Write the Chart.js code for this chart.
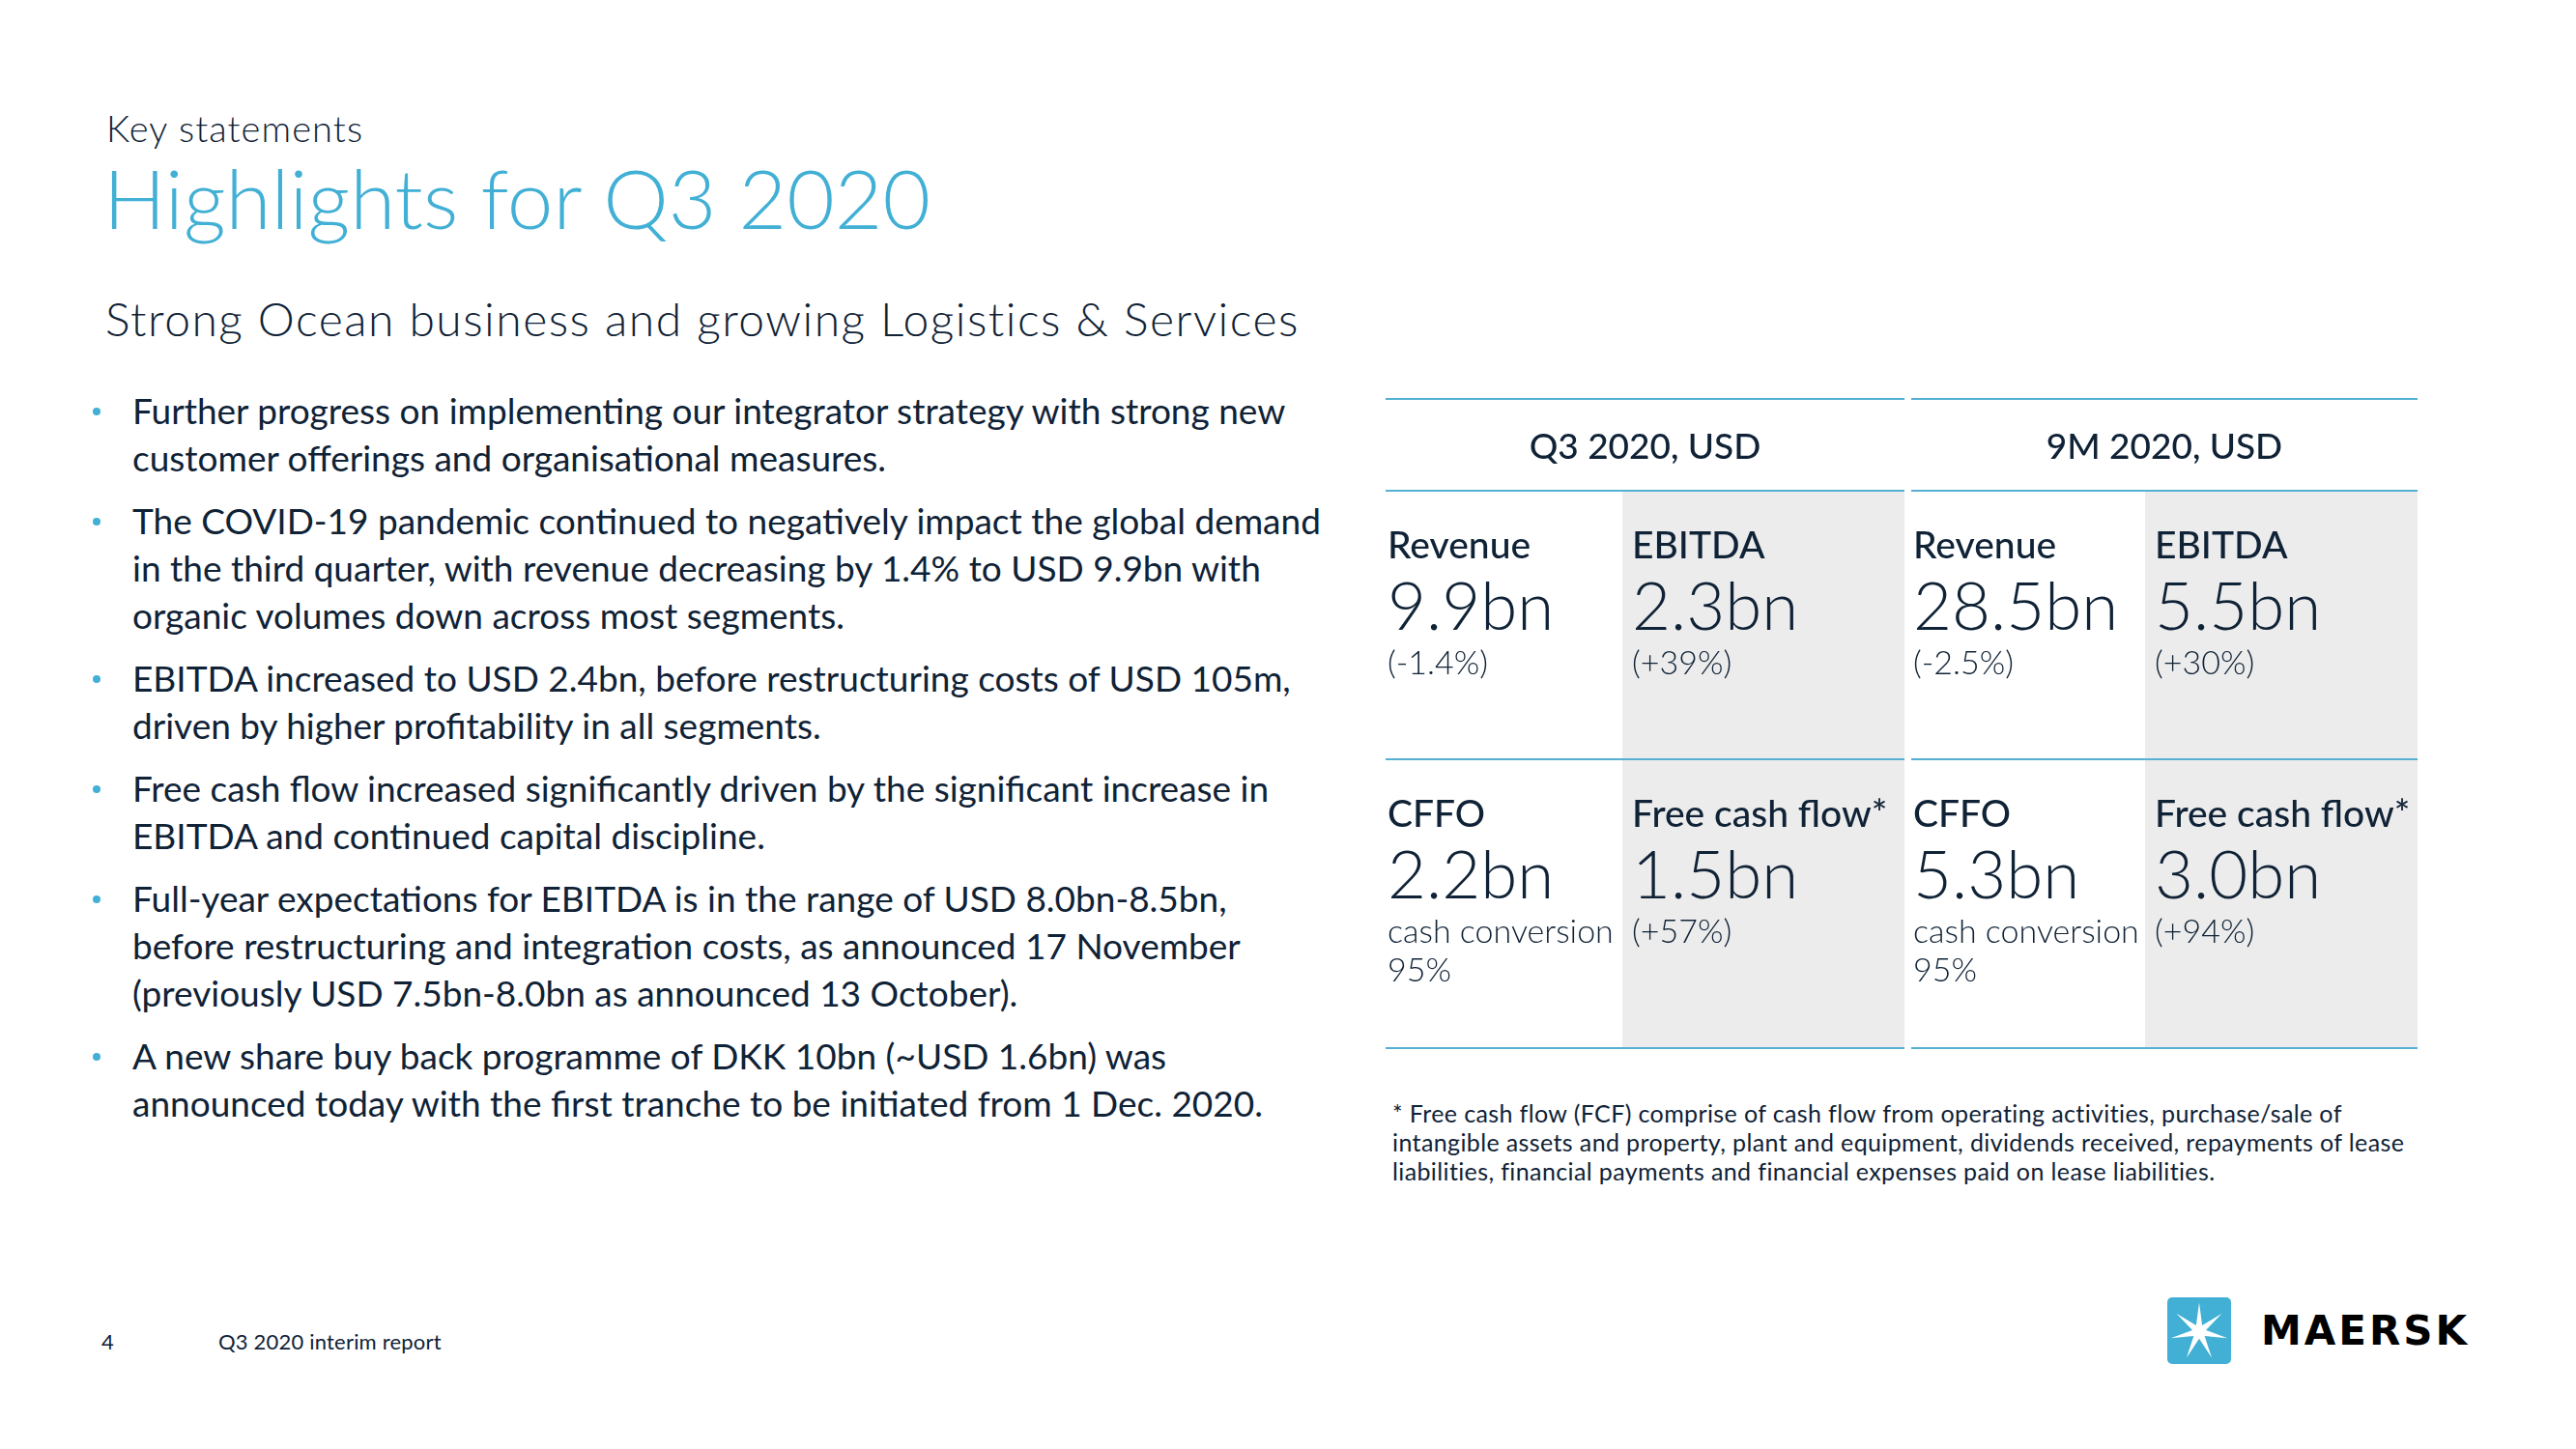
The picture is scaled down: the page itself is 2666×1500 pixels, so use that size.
<!DOCTYPE html>
<html>
<head>
<meta charset="utf-8">
<title>Highlights for Q3 2020</title>
<script src="https://cdn.jsdelivr.net/npm/chart.js@4.4.0/dist/chart.umd.min.js"></script>
<style>
  html, body { margin: 0; padding: 0; background: #ffffff; }
  body { width: 2666px; height: 1500px; position: relative; overflow: hidden;
         font-family: Lato, "Open Sans", sans-serif; color: #0f2236; }
  .abs { position: absolute; white-space: nowrap; margin: 0; }
  #kicker { left: 110px; top: 109.5px; font-size: 38px; line-height: 45.6px; font-weight: 300; letter-spacing: 1.1px; }
  #title { left: 107px; top: 152.6px; font-size: 85.5px; line-height: 102.6px; font-weight: 300; color: #42b0d5; }
  #subtitle { left: 109px; top: 300.6px; font-size: 48px; line-height: 57.6px; font-weight: 300; letter-spacing: 1.5px; }
  #bullets { left: 137px; top: 401.2px; font-size: 37px; line-height: 48.8px; padding: 0; list-style: none;
             font-weight: 400; letter-spacing: 0px; }
  #bullets li { position: relative; margin: 0 0 16.5px 0; }
  #bullets li::before { content: ''; position: absolute; left: -41px; top: 20.7px; width: 8px; height: 8px;
                        border-radius: 50%; background: #42b0d5; }
  #footnote { left: 1441px; top: 1137.3px; font-size: 25px; line-height: 30px; font-weight: 400; letter-spacing: 0.38px; }
  #pageno { left: 105px; top: 1376.3px; font-size: 22px; line-height: 26.4px; }
  #report { left: 226px; top: 1376.3px; font-size: 22px; line-height: 26.4px; letter-spacing: 0.2px; }
  #logo { position: absolute; left: 2243px; top: 1343px; width: 66px; height: 69px; }
  #brand { left: 2340px; top: 1357px; font-family: "DejaVu Sans", sans-serif; font-weight: bold;
           font-size: 42px; line-height: 42px; letter-spacing: 3px; color: #000; }
  #tableWrap { position: absolute; left: 1430px; top: 405px; width: 1082px; height: 690px; }
</style>
</head>
<body>

<div id="kicker" class="abs">Key statements</div>
<div id="title" class="abs">Highlights for Q3 2020</div>
<div id="subtitle" class="abs">Strong Ocean business and growing Logistics &amp; Services</div>

<ul id="bullets" class="abs">
  <li>Further progress on implementing our integrator strategy with strong new<br>customer offerings and organisational measures.</li>
  <li>The COVID-19 pandemic continued to negatively impact the global demand<br>in the third quarter, with revenue decreasing by 1.4% to USD 9.9bn with<br>organic volumes down across most segments.</li>
  <li>EBITDA increased to USD 2.4bn, before restructuring costs of USD 105m,<br>driven by higher profitability in all segments.</li>
  <li>Free cash flow increased significantly driven by the significant increase in<br>EBITDA and continued capital discipline.</li>
  <li>Full-year expectations for EBITDA is in the range of USD 8.0bn-8.5bn,<br>before restructuring and integration costs, as announced 17 November<br>(previously USD 7.5bn-8.0bn as announced 13 October).</li>
  <li>A new share buy back programme of DKK 10bn (~USD 1.6bn) was<br>announced today with the first tranche to be initiated from 1 Dec. 2020.</li>
</ul>

<div id="tableWrap"><canvas id="kpiChart"></canvas></div>

<div id="footnote" class="abs">* Free cash flow (FCF) comprise of cash flow from operating activities, purchase/sale of<br>intangible assets and property, plant and equipment, dividends received, repayments of lease<br>liabilities, financial payments and financial expenses paid on lease liabilities.</div>

<div id="pageno" class="abs">4</div>
<div id="report" class="abs">Q3 2020 interim report</div>

<svg id="logo" viewBox="0 0 66 69" xmlns="http://www.w3.org/2000/svg">
  <rect x="0" y="0" width="66" height="69" rx="5" ry="5" fill="#42b0d5"></rect>
  <polygon id="star" fill="#ffffff" points=""></polygon>
</svg>
<div id="brand" class="abs">MAERSK</div>

<script>
// ---------------- data ----------------
const periods = ['Q3 2020, USD', '9M 2020, USD'];
const metrics = ['Revenue', 'EBITDA', 'CFFO', 'Free cash flow*'];
const q3Values = [9.9, 2.3, 2.2, 1.5];
const nineMonthValues = [28.5, 5.5, 5.3, 3.0];
const q3Notes = ['(-1.4%)', '(+39%)', 'cash conversion 95%', '(+57%)'];
const nineMonthNotes = ['(-2.5%)', '(+30%)', 'cash conversion 95%', '(+94%)'];
const valueUnit = 'bn';

const periodValues = [q3Values, nineMonthValues];
const periodNotes = [q3Notes, nineMonthNotes];

// ---------------- logo star ----------------
(function () {
  const pts = [];
  const cx = 33, cy = 35.5, R = 30, r = 7.2, n = 7;
  for (let i = 0; i < n * 2; i++) {
    const a = -Math.PI / 2 + i * Math.PI / n;
    const rad = i % 2 === 0 ? R : r;
    pts.push((cx + rad * Math.cos(a)).toFixed(2) + ',' + (cy + rad * Math.sin(a)).toFixed(2));
  }
  document.getElementById('star').setAttribute('points', pts.join(' '));
})();

// ---------------- KPI table plugin ----------------
const kpiTablePlugin = {
  id: 'kpiTable',
  afterDatasetsDraw(chart) {
    const o = chart.options.plugins.kpiTable;
    const { ctx } = chart;
    const xs = chart.scales.x, ys = chart.scales.y;
    const X = v => xs.getPixelForValue(v);
    const Y = v => ys.getPixelForValue(v);
    ctx.save();

    periods.forEach((period, b) => {
      const edges = o.colEdges[b];
      // highlighted (second) column of each block
      ctx.fillStyle = o.highlight;
      ctx.fillRect(X(edges[1]), Y(o.rowEdges[1]), X(edges[2]) - X(edges[1]), Y(o.rowEdges[3]) - Y(o.rowEdges[1]));

      // rule lines
      ctx.strokeStyle = o.ruleColor;
      ctx.lineWidth = o.ruleWidth;
      o.rowEdges.forEach(re => {
        const py = Math.round(Y(re));
        ctx.beginPath();
        ctx.moveTo(X(edges[0]), py);
        ctx.lineTo(X(edges[2]), py);
        ctx.stroke();
      });

      // header
      ctx.fillStyle = o.textColor;
      ctx.textBaseline = 'alphabetic';
      ctx.textAlign = 'center';
      ctx.font = o.headerFont;
      ctx.fillText(period, (X(edges[0]) + X(edges[2])) / 2, Y(o.rowEdges[0] + o.headerBaseline));

      // cells
      ctx.textAlign = 'left';
      for (let r = 0; r < 2; r++) {
        for (let c = 0; c < 2; c++) {
          const idx = r * 2 + c;
          const left = X(edges[c]) + o.cellPad[c];
          const maxW = X(edges[c + 1]) - left - 2;
          const top = o.rowEdges[r + 1];
          ctx.font = o.labelFont;
          ctx.fillText(metrics[idx], left, Y(top + o.labelBaseline));
          ctx.font = o.valueFont;
          ctx.fillText(periodValues[b][idx].toFixed(1) + valueUnit, left, Y(top + o.valueBaseline));
          ctx.font = o.noteFont;
          // simple word wrap
          const words = periodNotes[b][idx].split(' ');
          const lines = [];
          let line = '';
          words.forEach(w => {
            const test = line ? line + ' ' + w : w;
            if (line && ctx.measureText(test).width > maxW) { lines.push(line); line = w; }
            else { line = test; }
          });
          if (line) lines.push(line);
          lines.forEach((ln, li) => {
            ctx.fillText(ln, left, Y(top + o.noteBaseline + li * o.noteLineHeight));
          });
        }
      }
    });
    ctx.restore();
  }
};

new Chart(document.getElementById('kpiChart'), {
  type: 'scatter',
  data: { datasets: [] },
  plugins: [kpiTablePlugin],
  options: {
    responsive: true,
    maintainAspectRatio: false,
    animation: false,
    devicePixelRatio: 1,
    layout: { padding: 0 },
    events: [],
    scales: {
      x: { type: 'linear', min: 0, max: 1082, display: false },
      y: { type: 'linear', min: 0, max: 690, reverse: true, display: false }
    },
    plugins: {
      legend: { display: false },
      tooltip: { enabled: false },
      kpiTable: {
        colEdges: [[4, 249, 541], [548, 790, 1072]],
        rowEdges: [8, 103, 381, 680],
        cellPad: [2, 10],
        headerBaseline: 62,
        labelBaseline: 70,
        valueBaseline: 144,
        noteBaseline: 190,
        noteLineHeight: 40,
        highlight: '#ececec',
        ruleColor: '#55b0d3',
        ruleWidth: 2,
        textColor: '#0f2236',
        headerFont: '500 37px Lato, "Open Sans", sans-serif',
        labelFont: '500 39px Lato, "Open Sans", sans-serif',
        valueFont: '300 69px Lato, "Open Sans", sans-serif',
        noteFont: '300 34px Lato, "Open Sans", sans-serif'
      }
    }
  }
});
</script>
</body>
</html>
